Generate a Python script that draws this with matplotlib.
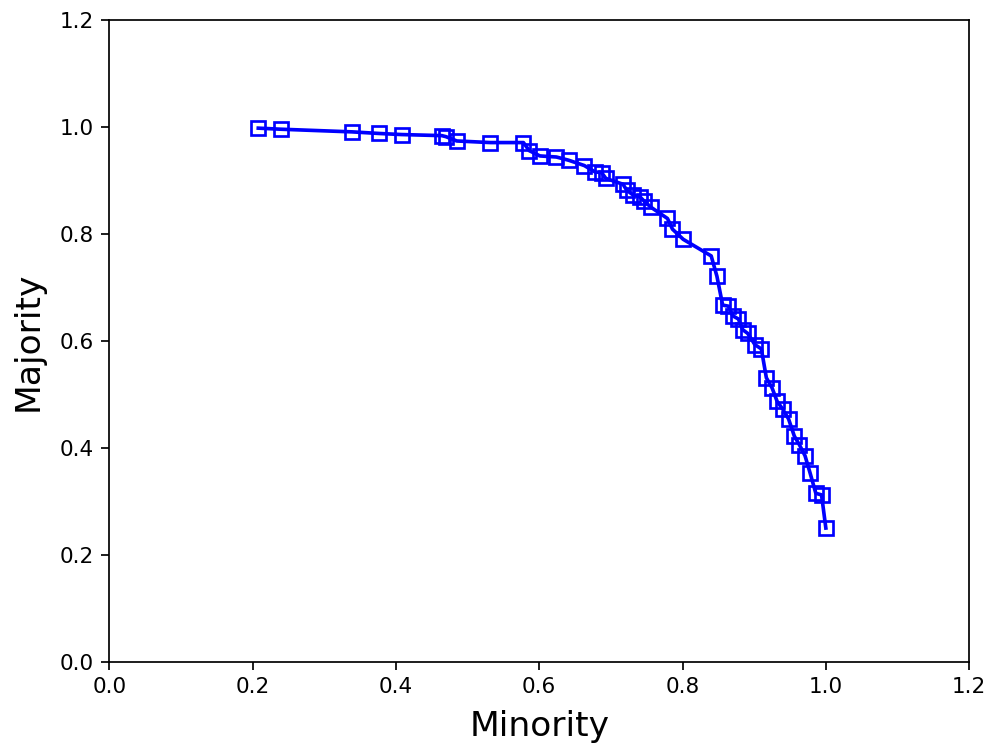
import matplotlib
matplotlib.use('Agg')
import matplotlib.pyplot as plt

# Pareto front values
minority = [0.208, 0.239, 0.339, 0.377, 0.408, 0.464, 0.470, 0.485, 0.532, 0.578,
            0.586, 0.601, 0.624, 0.641, 0.663, 0.678, 0.687, 0.693, 0.717, 0.722,
            0.731, 0.741, 0.746, 0.756, 0.779, 0.786, 0.801, 0.840, 0.848, 0.856,
            0.864, 0.870, 0.878, 0.884, 0.891, 0.901, 0.910, 0.917, 0.925, 0.932,
            0.940, 0.948, 0.956, 0.963, 0.971, 0.978, 0.986, 0.994, 1.000]
majority = [0.998, 0.996, 0.991, 0.988, 0.986, 0.984, 0.982, 0.974, 0.971, 0.971,
            0.956, 0.946, 0.944, 0.938, 0.928, 0.916, 0.915, 0.904, 0.893, 0.882,
            0.873, 0.869, 0.862, 0.850, 0.829, 0.809, 0.790, 0.759, 0.721, 0.667,
            0.665, 0.647, 0.641, 0.621, 0.614, 0.593, 0.585, 0.531, 0.512, 0.487,
            0.472, 0.454, 0.422, 0.406, 0.385, 0.353, 0.315, 0.312, 0.250]

ticks = [0.0, 0.2, 0.4, 0.6, 0.8, 1.0, 1.2]

fig = plt.figure(figsize=(993 / 155, 746 / 155), dpi=155)
ax = fig.add_axes([0.110, 0.113, 0.866, 0.860])

ax.plot(minority, majority, color='blue', linewidth=1.7, marker='s',
        markersize=6.5, markerfacecolor='none', markeredgecolor='blue',
        markeredgewidth=1.25)

ax.set_xlim(0, 1.2)
ax.set_ylim(0, 1.2)
ax.set_xticks(ticks)
ax.set_yticks(ticks)
ax.tick_params(labelsize=10)
ax.set_xlabel('Minority', fontsize=16, labelpad=6)
ax.set_ylabel('Majority', fontsize=16, labelpad=7)

plt.savefig('out.png', dpi=155)
